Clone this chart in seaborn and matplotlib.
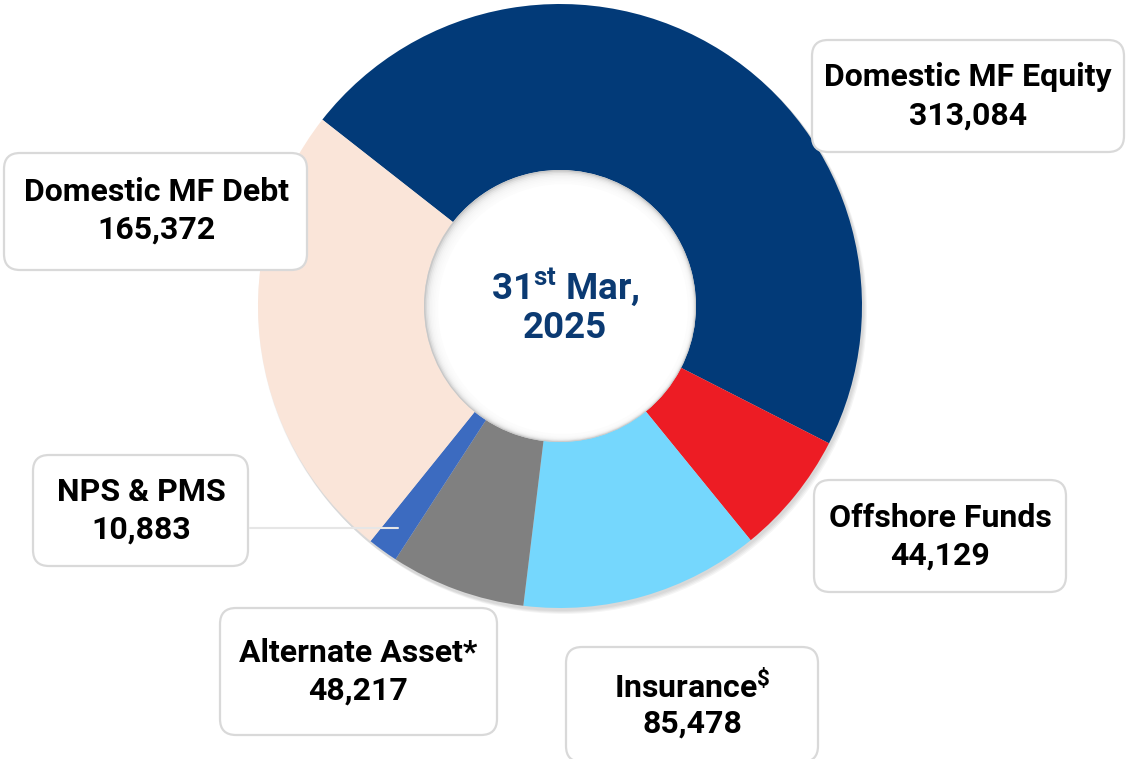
import matplotlib
matplotlib.use("Agg")
import matplotlib.pyplot as plt
from matplotlib.patches import FancyBboxPatch, Circle
import seaborn as sns

sns.set_theme(style="white")
plt.rcParams['font.family'] = ['Roboto', 'DejaVu Sans']
plt.rcParams['mathtext.fontset'] = 'custom'
plt.rcParams['mathtext.rm'] = 'Roboto:bold'
plt.rcParams['mathtext.it'] = 'Roboto:bold'
plt.rcParams['mathtext.bf'] = 'Roboto:bold'

# ---- data ----
categories = ["Domestic MF Equity", "Offshore Funds", "Insurance$^{\\$}$",
              "Alternate Asset*", "NPS & PMS", "Domestic MF Debt"]
values = [313084, 44129, 85478, 48217, 10883, 165372]
value_labels = ["313,084", "44,129", "85,478", "48,217", "10,883", "165,372"]
colors = ["#023A78", "#ED1C24", "#75D7FD", "#808080", "#3C6BC0", "#FAE5D9"]
center_line1 = "31$^{\\mathrm{st}}$ Mar,"
center_line2 = "2025"

W, H = 1127, 759
fig = plt.figure(figsize=(W / 100, H / 100), dpi=100)
ax = fig.add_axes([0, 0, 1, 1])

def Y(py):
    return H - py

cx, cy = 560, Y(306)
R_out, R_in = 302, 136

# soft shadow behind the ring
for i in range(4):
    ax.add_patch(Circle((cx + 1 + i, cy - 2 - i), R_out + 1, color='black',
                        alpha=0.04, lw=0, zorder=0))

ax.pie(values, colors=colors, startangle=141.9, counterclock=False,
       radius=R_out, center=(cx, cy),
       wedgeprops=dict(width=R_out - R_in, edgecolor='none', linewidth=0))
ax.set_xlim(0, W)
ax.set_ylim(0, H)
ax.set_aspect('equal')
ax.axis('off')

# inner inset shadow: grey base, progressively whitened toward the centre
ax.add_patch(Circle((cx, cy), R_in, color='#C8C8C8', lw=0, zorder=3))
for i in range(1, 9):
    ax.add_patch(Circle((cx + 0.4 * i, cy - 0.4 * i), R_in - i * 1.1,
                        color='white', alpha=0.35, lw=0, zorder=3))
ax.add_patch(Circle((cx + 3, cy - 3), R_in - 11, color='white', lw=0, zorder=4))

# center text
navy = "#0B3A72"
ax.text(565, Y(287), center_line1, ha='center', va='center', fontsize=26.5,
        fontweight='bold', color=navy, zorder=6)
ax.text(565, Y(328), center_line2, ha='center', va='center', fontsize=26.5,
        fontweight='bold', color=navy, zorder=6)

# label boxes: (x0, y0, x1, y1) in pixel coords, text center
box_rects = [(812, 40, 1124, 152), (814, 480, 1066, 592), (566, 647, 818, 762),
             (220, 608, 497, 735), (33, 455, 248, 566), (4, 153, 307, 270)]
text_centers = [(968, 96.5), (940, 537), (692, 705), (358, 672), (141, 511), (156, 211)]

# connector line for NPS & PMS
ax.plot([250, 398], [Y(528), Y(528)], color="#E6E6E6", lw=1.5, zorder=5)

for (x0, y0, x1, y1), (tx, ty), cat, val in zip(box_rects, text_centers,
                                                categories, value_labels):
    p = FancyBboxPatch((x0, Y(y1)), x1 - x0, y1 - y0,
                       boxstyle="round,pad=0,rounding_size=16",
                       fc='white', ec='#D9D9D9', lw=1.6, zorder=7)
    ax.add_patch(p)
    ax.text(tx, Y(ty - 19), cat, ha='center', va='center', fontsize=23,
            fontweight='bold', color='black', zorder=8)
    ax.text(tx, Y(ty + 19), val, ha='center', va='center', fontsize=23,
            fontweight='bold', color='black', zorder=8)

fig.savefig("out.png", dpi=100, facecolor='white')
